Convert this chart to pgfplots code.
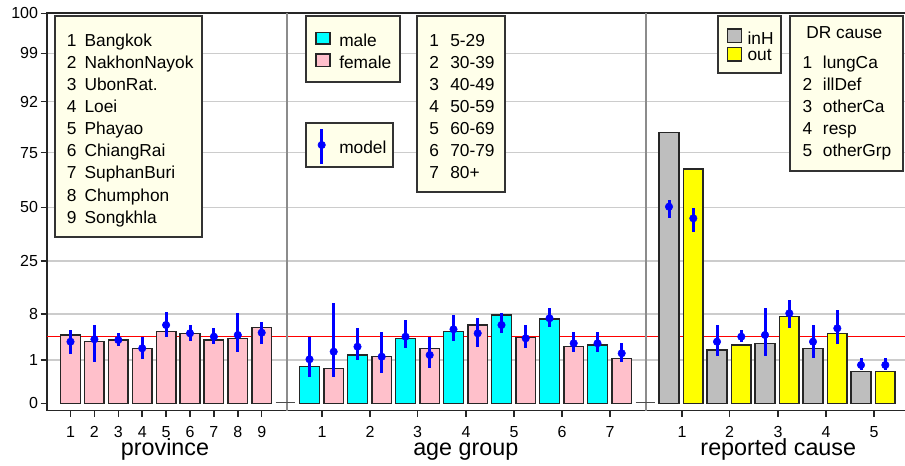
\documentclass[border=0pt]{standalone}
\usepackage{fontspec}
\setmainfont{Liberation Sans}
\usepackage{pgfplots}
\usepackage{pgfplotstable}
\pgfplotsset{compat=1.18}
\definecolor{legbg}{HTML}{FFFFEA}
\definecolor{pinkbar}{HTML}{FFC0CB}
\definecolor{cyanbar}{HTML}{00FFFF}
\definecolor{graybar}{HTML}{BEBEBE}
\definecolor{yellowbar}{HTML}{FFFF00}
\definecolor{gridc}{HTML}{CCCCCC}
\definecolor{divc}{HTML}{8C8C8C}
\newcommand\legfont{\fontsize{13}{15}\selectfont}
\newcommand\labfont{\fontsize{17.5}{20}\selectfont}

% columns: x position, bar height, model point, model lower, model upper
\pgfplotstableread{
x bar pt lo hi
70.5 68.3 61.6 49.3 73.3
94.4 61.6 64.0 41.6 78.3
118.3 63.3 63.3 57.6 70.0
142.2 55.0 55.0 44.0 66.0
166.1 71.6 78.3 66.0 91.6
190.0 70.0 70.0 62.6 78.3
213.9 63.3 66.6 59.3 75.0
237.8 65.0 68.3 51.6 90.0
261.7 76.0 70.6 59.3 81.6
}\province
\pgfplotstableread{
x bar pt lo hi
309.5 36.6 44.0 26.6 66.6
357.5 48.3 56.6 43.3 75.0
405.5 65.0 66.6 55.0 83.3
453.5 71.6 74.0 62.6 88.3
501.5 88.3 78.3 70.0 90.0
549.5 84.3 85.0 76.6 95.0
597.5 58.3 60.0 51.6 71.6
}\agemale
\pgfplotstableread{
x bar pt lo hi
333.7 35.0 51.6 26.6 100.0
381.7 46.6 46.6 30.0 71.6
429.7 55.0 48.3 35.0 66.6
477.7 78.3 70.0 56.6 85.0
525.7 66.0 65.0 55.0 78.3
573.7 56.6 60.0 51.6 71.6
621.7 45.0 50.0 41.6 60.6
}\agefemale
\pgfplotstableread{
x bar pt lo hi
669.0 270.6 196.6 185.0 203.3
717.0 53.3 61.6 47.3 78.3
765.0 60.0 68.3 47.3 95.0
813.0 55.0 61.6 45.6 78.3
861.0 31.6 38.3 33.3 45.6
}\causeinH
\pgfplotstableread{
x bar pt lo hi
693.3 234.3 185.0 171.6 195.0
741.3 58.3 66.6 61.6 73.3
789.3 86.6 90.0 75.6 103.3
837.3 70.0 75.0 59.0 93.3
885.3 31.6 38.3 33.3 45.6
}\causeout
\pgfplotstableread{
x pt lo hi
321.7 258.3 239.3 274.0
}\modelkey

\pgfplotsset{
  barstyle/.style={ybar, bar width=19.6, bar shift=0pt, draw=black!85, line width=1.1pt},
  errstyle/.style={blue, only marks, mark=*, mark size=2.8pt,
    error bars/.cd, y dir=both, y explicit, error mark=none,
    error bar style={line width=2.25pt, blue}},
}

\begin{document}
\begin{tikzpicture}
\begin{axis}[
  x=0.75pt, y=0.75pt,
  xmin=46.7, xmax=908, ymin=-7.4, ymax=390,
  clip=false,
  axis line style={black!85, line width=1.2pt},
  tick align=outside, major tick length=4.5pt,
  tick style={black!85, line width=1.1pt},
  xtick pos=left, ytick pos=left,
  xtick={70.5,94.4,118.3,142.2,166.1,190,213.9,237.8,261.7,322,370,417.5,466,514,562,610,682,729.5,778,826,874},
  xticklabels={1,2,3,4,5,6,7,8,9,1,2,3,4,5,6,7,1,2,3,4,5},
  xticklabel style={font=\fontsize{12}{14}\selectfont, anchor=base, inner sep=0pt, yshift=-15.5pt},
  ytick={43.3,89.3,142.3,196,250.6,301.6,350},
  yticklabels={1,8,25,50,75,92,99},
  extra y ticks={0,390},
  extra y tick labels={0,100},
  extra y tick style={grid=none},
  yticklabel style={font=\fontsize{12}{14}\selectfont, anchor=east, inner sep=0pt, xshift=-1.8pt},
  ymajorgrids=true,
  grid style={gridc, line width=1.1pt},
]
% reference line
\addplot[red, line width=1.1pt] coordinates {(46.7,66.6) (908,66.6)};
% panel dividers
\addplot[divc, line width=1.2pt] coordinates {(286.7,-7.4) (286.7,390)};
\addplot[divc, line width=1.2pt] coordinates {(646,-7.4) (646,390)};
\addplot[black!70, line width=1.1pt] coordinates {(275.7,0.6) (295,0.6)};
\addplot[black!70, line width=1.1pt] coordinates {(635.7,0.6) (655,0.6)};

% bars
\addplot[barstyle, fill=pinkbar] table[x=x, y=bar]{\province};
\addplot[barstyle, fill=cyanbar] table[x=x, y=bar]{\agemale};
\addplot[barstyle, fill=pinkbar] table[x=x, y=bar]{\agefemale};
\addplot[barstyle, fill=graybar] table[x=x, y=bar]{\causeinH};
\addplot[barstyle, fill=yellowbar] table[x=x, y=bar]{\causeout};

% model estimates
\addplot[errstyle] table[x=x, y=pt, y error plus expr=\thisrow{hi}-\thisrow{pt}, y error minus expr=\thisrow{pt}-\thisrow{lo}]{\province};
\addplot[errstyle] table[x=x, y=pt, y error plus expr=\thisrow{hi}-\thisrow{pt}, y error minus expr=\thisrow{pt}-\thisrow{lo}]{\agemale};
\addplot[errstyle] table[x=x, y=pt, y error plus expr=\thisrow{hi}-\thisrow{pt}, y error minus expr=\thisrow{pt}-\thisrow{lo}]{\agefemale};
\addplot[errstyle] table[x=x, y=pt, y error plus expr=\thisrow{hi}-\thisrow{pt}, y error minus expr=\thisrow{pt}-\thisrow{lo}]{\causeinH};
\addplot[errstyle] table[x=x, y=pt, y error plus expr=\thisrow{hi}-\thisrow{pt}, y error minus expr=\thisrow{pt}-\thisrow{lo}]{\causeout};

% legend boxes
\draw[fill=legbg, draw=black!80, line width=1.4pt] (axis cs:55,387.6) rectangle (axis cs:201.7,166.6);
\draw[fill=legbg, draw=black!80, line width=1.4pt] (axis cs:306,387.6) rectangle (axis cs:400,321.6);
\draw[fill=legbg, draw=black!80, line width=1.4pt] (axis cs:306,280.6) rectangle (axis cs:393.3,236);
\draw[fill=legbg, draw=black!80, line width=1.4pt] (axis cs:417.3,387.6) rectangle (axis cs:505,211);
\draw[fill=legbg, draw=black!80, line width=1.4pt] (axis cs:718.3,387.6) rectangle (axis cs:780.7,330);
\draw[fill=legbg, draw=black!80, line width=1.4pt] (axis cs:790,387.6) rectangle (axis cs:903.3,232.6);

% model key
\addplot[errstyle] table[x=x, y=pt, y error plus expr=\thisrow{hi}-\thisrow{pt}, y error minus expr=\thisrow{pt}-\thisrow{lo}]{\modelkey};
\node[anchor=base west, inner sep=0pt, font=\legfont] at (axis cs:339,250.1) {model};

% province legend
\begin{scope}[every node/.style={anchor=base west, inner sep=0pt, font=\legfont}]
\node at (axis cs:66.7,356.8) {1}; \node at (axis cs:84.3,356.8) {Bangkok};
\node at (axis cs:66.7,334.7) {2}; \node at (axis cs:84.3,334.7) {NakhonNayok};
\node at (axis cs:66.7,312.6) {3}; \node at (axis cs:84.3,312.6) {UbonRat.};
\node at (axis cs:66.7,290.6) {4}; \node at (axis cs:84.3,290.6) {Loei};
\node at (axis cs:66.7,268.5) {5}; \node at (axis cs:84.3,268.5) {Phayao};
\node at (axis cs:66.7,246.4) {6}; \node at (axis cs:84.3,246.4) {ChiangRai};
\node at (axis cs:66.7,224.3) {7}; \node at (axis cs:84.3,224.3) {SuphanBuri};
\node at (axis cs:66.7,202.2) {8}; \node at (axis cs:84.3,202.2) {Chumphon};
\node at (axis cs:66.7,180.2) {9}; \node at (axis cs:84.3,180.2) {Songkhla};
% sex legend
\node at (axis cs:339,356.8) {male};
\node at (axis cs:339,334.7) {female};
% age legend
\node at (axis cs:429,356.8) {1}; \node at (axis cs:450,356.8) {5-29};
\node at (axis cs:429,334.7) {2}; \node at (axis cs:450,334.7) {30-39};
\node at (axis cs:429,312.6) {3}; \node at (axis cs:450,312.6) {40-49};
\node at (axis cs:429,290.6) {4}; \node at (axis cs:450,290.6) {50-59};
\node at (axis cs:429,268.5) {5}; \node at (axis cs:450,268.5) {60-69};
\node at (axis cs:429,246.4) {6}; \node at (axis cs:450,246.4) {70-79};
\node at (axis cs:429,224.3) {7}; \node at (axis cs:450,224.3) {80+};
% place legend
\node at (axis cs:747.3,359.1) {inH};
\node at (axis cs:747.3,342.5) {out};
% DR cause legend
\node at (axis cs:802.3,334.7) {1}; \node at (axis cs:822.7,334.7) {lungCa};
\node at (axis cs:802.3,312.6) {2}; \node at (axis cs:822.7,312.6) {illDef};
\node at (axis cs:802.3,290.6) {3}; \node at (axis cs:822.7,290.6) {otherCa};
\node at (axis cs:802.3,268.5) {4}; \node at (axis cs:822.7,268.5) {resp};
\node at (axis cs:802.3,246.4) {5}; \node at (axis cs:822.7,246.4) {otherGrp};
\end{scope}
\node[anchor=base, inner sep=0pt, font=\legfont] at (axis cs:844.3,364.5) {DR cause};
% key patches
\draw[fill=cyanbar, draw=black!85, line width=1.1pt] (axis cs:316,371) rectangle (axis cs:330,359.3);
\draw[fill=pinkbar, draw=black!85, line width=1.1pt] (axis cs:316,349.3) rectangle (axis cs:330,336.6);
\draw[fill=graybar, draw=black!85, line width=1.1pt] (axis cs:727.7,374.3) rectangle (axis cs:741.7,361);
\draw[fill=yellowbar, draw=black!85, line width=1.1pt] (axis cs:727.7,355.6) rectangle (axis cs:741.7,342.3);

% axis titles
\node[anchor=base, inner sep=0pt, font=\labfont] at (axis cs:165,-52.7) {province};
\node[anchor=base, inner sep=0pt, font=\labfont] at (axis cs:465.8,-52.7) {age group};
\node[anchor=base, inner sep=0pt, font=\labfont] at (axis cs:778.3,-52.7) {reported cause};

\coordinate (BL) at (axis cs:0,-62.7);
\coordinate (TR) at (axis cs:905,403.3);
\end{axis}
\pgfresetboundingbox
\path[use as bounding box] (BL) rectangle (TR);
\end{tikzpicture}
\end{document}
